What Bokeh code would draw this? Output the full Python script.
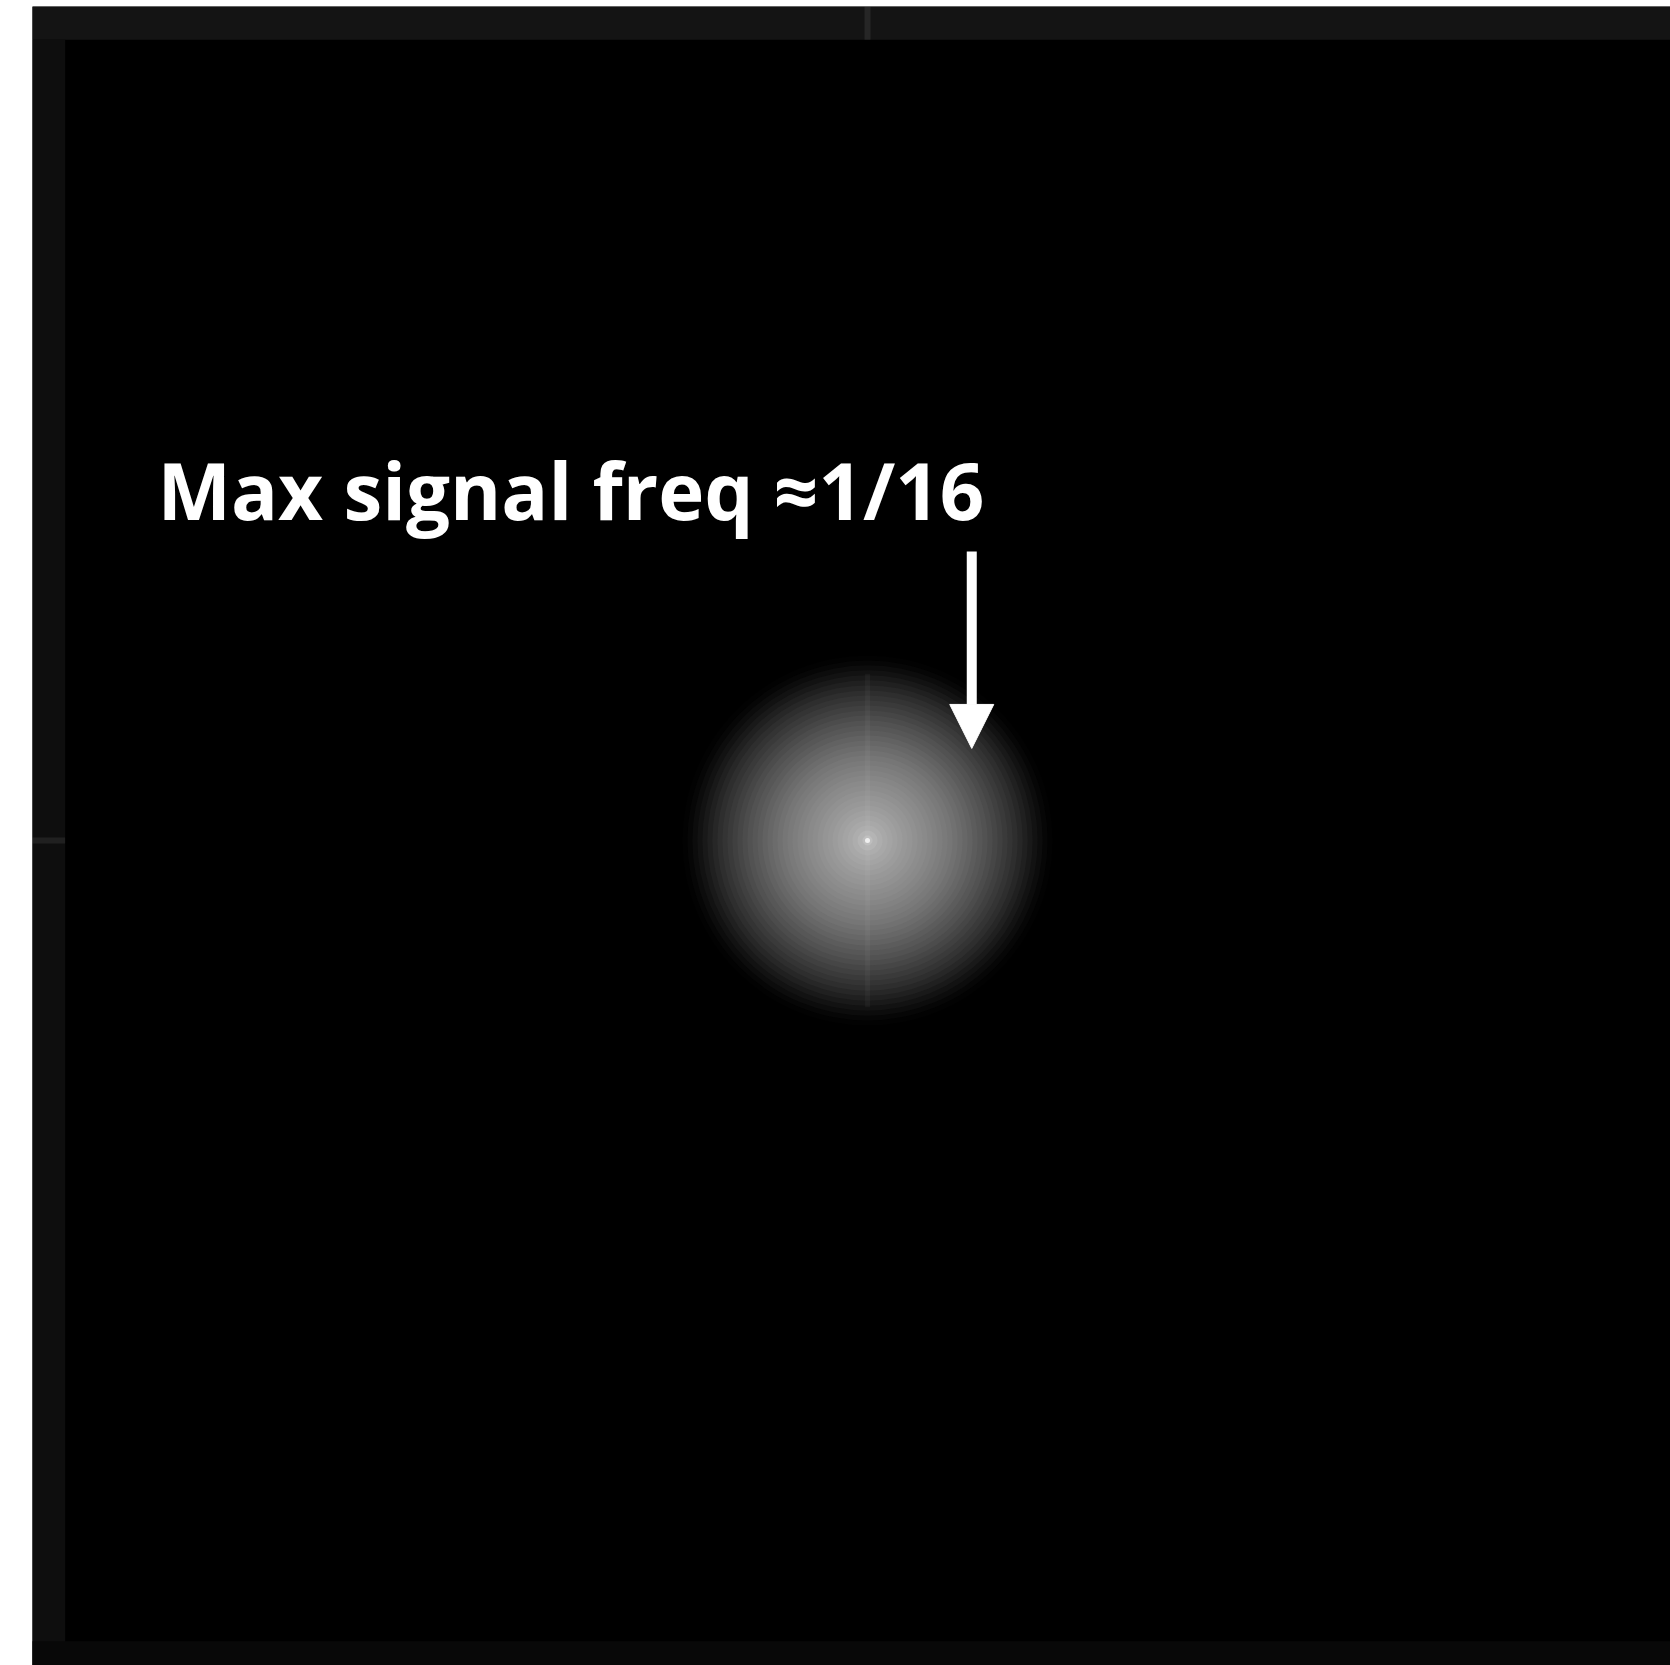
from bokeh.plotting import figure
from bokeh.models import ColumnDataSource, Label, Arrow, NormalHead, Range1d
from bokeh.embed import file_html
from bokeh.resources import INLINE

# Power spectrum (cycles/pixel), radial brightness profile
ring_radius = [0.111, 0.108, 0.105, 0.102, 0.099, 0.096, 0.093, 0.090, 0.087, 0.084,
               0.081, 0.078, 0.075, 0.072, 0.069, 0.066, 0.063, 0.060, 0.057, 0.054,
               0.051, 0.048, 0.045, 0.042, 0.039, 0.036, 0.033, 0.030, 0.027, 0.024,
               0.021, 0.018, 0.015, 0.012, 0.009, 0.006, 0.003]
ring_gray = [2, 6, 12, 18, 25, 32, 39, 46, 52, 58,
             64, 70, 76, 82, 87, 92, 98, 103, 108, 113,
             118, 122, 126, 130, 134, 138, 141, 145, 149, 152,
             156, 160, 164, 168, 173, 180, 190]
dc_radius = 0.0015
dc_gray = 240

# Edge (border) bands of the spectrum image
band_left = [-0.501, -0.501, -0.501]
band_right = [0.482, -0.481, 0.482]
band_bottom = [0.480, -0.495, -0.495]
band_top = [0.500, 0.480, -0.480]
band_gray = [20, 14, 8]

max_signal_freq = 1 / 16
label_text = "Max signal freq \u22481/16"


def gray_hex(g):
    return "#%02x%02x%02x" % (g, g, g)


W, H = 1670, 1665
p = figure(width=W, height=H, output_backend="svg", toolbar_location=None,
           x_range=Range1d(-0.5006, 0.4814), y_range=Range1d(-0.4946, 0.5000),
           min_border_left=32, min_border_right=0, min_border_top=6, min_border_bottom=0,
           background_fill_color="black", border_fill_color="white")
p.xaxis.visible = False
p.yaxis.visible = False
p.grid.visible = False
p.outline_line_color = None

bands = ColumnDataSource(dict(left=band_left, right=band_right, bottom=band_bottom,
                              top=band_top, color=[gray_hex(g) for g in band_gray]))
p.quad(left="left", right="right", bottom="bottom", top="top", fill_color="color",
       line_color=None, source=bands)

# faint axis streaks in the top and left border bands
p.segment(x0=[0.0, -0.501], y0=[0.480, 0.0], x1=[0.0, -0.481], y1=[0.500, 0.0],
          line_color="white", line_alpha=0.08, line_width=6)

rings = ColumnDataSource(dict(x=[0.0] * len(ring_radius), y=[0.0] * len(ring_radius),
                              r=ring_radius, color=[gray_hex(g) for g in ring_gray]))
p.circle(x="x", y="y", radius="r", fill_color="color", line_color=None, source=rings)

# faint axis streak through DC
p.segment(x0=[0.0], y0=[-0.10], x1=[0.0], y1=[0.10], line_color="white",
          line_alpha=0.035, line_width=5)
p.circle(x=[0.0], y=[0.0], radius=dc_radius, fill_color=gray_hex(dc_gray), line_color=None)

p.add_layout(Label(x=-0.4257, y=0.2104, text=label_text, text_color="white",
                   text_font="Open Sans", text_font_style="bold", text_font_size="78px",
                   text_baseline="alphabetic", text_align="left"))

p.add_layout(Arrow(x_start=max_signal_freq, y_start=0.1733, x_end=max_signal_freq, y_end=0.0552,
                   line_color="white", line_width=10,
                   end=NormalHead(size=44, fill_color="white", line_color="white", line_width=1)))

open("out.html", "w").write(file_html(p, INLINE))
